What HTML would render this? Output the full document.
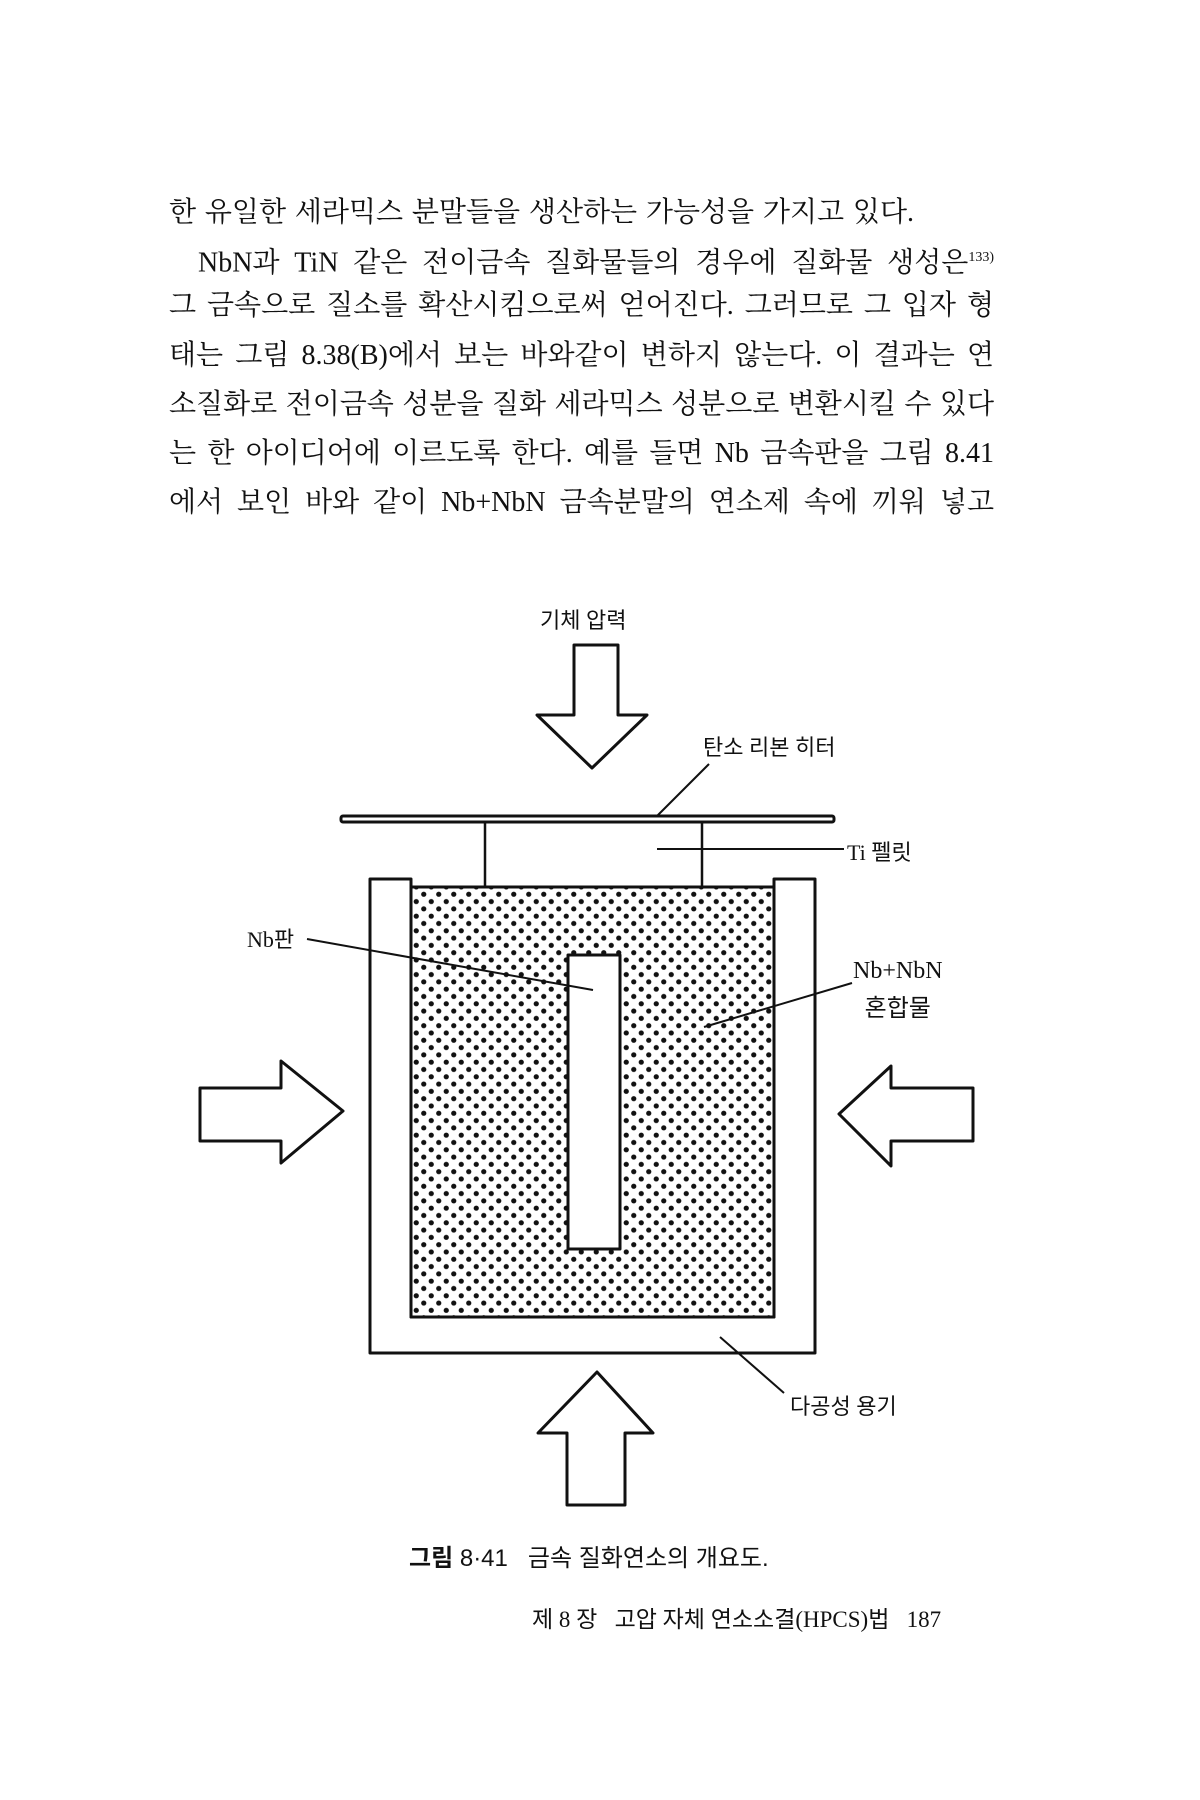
<!DOCTYPE html>
<html><head><meta charset="utf-8"><style>
html,body{margin:0;padding:0;background:#fff;}
body{width:1200px;height:1800px;position:relative;overflow:hidden;font-family:"Liberation Serif","Noto Serif CJK SC","Noto Sans CJK KR",serif;color:#111;}
.l{position:absolute;left:169px;width:825px;font-size:28px;line-height:32px;white-space:nowrap;text-align:justify;text-align-last:justify;}
.t{position:absolute;font-family:"Liberation Serif","Noto Sans CJK KR",serif;}
</style></head><body>
<div class="l" style="top:197px;width:745px;">한 유일한 세라믹스 분말들을 생산하는 가능성을 가지고 있다.</div>
<div class="l" style="top:242px;left:198px;width:796px;">NbN과 TiN 같은 전이금속 질화물들의 경우에 질화물 생성은<sup style="font-size:14px;">133)</sup></div>
<div class="l" style="top:290px;">그 금속으로 질소를 확산시킴으로써 얻어진다. 그러므로 그 입자 형</div>
<div class="l" style="top:340px;">태는 그림 8.38(B)에서 보는 바와같이 변하지 않는다. 이 결과는 연</div>
<div class="l" style="top:389px;">소질화로 전이금속 성분을 질화 세라믹스 성분으로 변환시킬 수 있다</div>
<div class="l" style="top:438px;">는 한 아이디어에 이르도록 한다. 예를 들면 Nb 금속판을 그림 8.41</div>
<div class="l" style="top:487px;">에서 보인 바와 같이 Nb+NbN 금속분말의 연소제 속에 끼워 넣고</div>

<svg width="1200" height="1800" style="position:absolute;left:0;top:0" xmlns="http://www.w3.org/2000/svg">
<defs><pattern id="d" width="15" height="14.6" patternUnits="userSpaceOnUse">
<circle cx="3.75" cy="3.65" r="2.6" fill="#111"/><circle cx="11.25" cy="10.95" r="2.6" fill="#111"/></pattern></defs>
<g fill="none" stroke="#111" stroke-width="3" stroke-linejoin="round">
<polygon points="574,645 618,645 618,715 647,715 592,768 537,715 574,715" fill="#fff"/>
<rect x="341" y="816" width="493" height="6" rx="2" fill="#fff"/>
<line x1="657" y1="816" x2="709" y2="764" stroke-width="2"/>
<line x1="485" y1="822" x2="485" y2="887" stroke-width="2.5"/>
<line x1="702" y1="822" x2="702" y2="887" stroke-width="2.5"/>
<line x1="657" y1="849" x2="844" y2="849" stroke-width="2"/>
<path d="M370,879 L411,879 L411,887 L411,1317 L774,1317 L774,879 L815,879 L815,1353 L370,1353 Z" fill="#fff"/>
<rect x="411" y="887" width="363" height="430" fill="url(#d)"/>
<rect x="568" y="955" width="52" height="294" fill="#fff"/>
<line x1="307" y1="939" x2="593" y2="990" stroke-width="2"/>
<line x1="852" y1="983" x2="704" y2="1027" stroke-width="2"/>
<line x1="720" y1="1337" x2="784" y2="1393" stroke-width="2"/>
<polygon points="200,1088 281,1088 281,1061 343,1111 281,1163 281,1141 200,1141" fill="#fff"/>
<polygon points="973,1088 891,1088 891,1066 839,1114 891,1166 891,1141 973,1141" fill="#fff"/>
<polygon points="597,1372 653,1433 625,1433 625,1505 567,1505 567,1433 538,1433" fill="#fff"/>
</g>
</svg>

<div class="t" style="left:540px;top:603px;font-size:22px;">기체 압력</div>
<div class="t" style="left:703px;top:730px;font-size:22px;">탄소 리본 히터</div>
<div class="t" style="left:847px;top:835px;font-size:22px;">Ti 펠릿</div>
<div class="t" style="left:247px;top:922px;font-size:22px;">Nb판</div>
<div class="t" style="left:853px;top:952px;font-size:24px;text-align:center;line-height:38px;">Nb+NbN<br>혼합물</div>
<div class="t" style="left:790px;top:1389px;font-size:22px;">다공성 용기</div>
<div class="t" style="left:409px;top:1538px;font-size:24px;font-family:'Liberation Sans','Noto Sans CJK KR',sans-serif;"><b>그림</b> 8·41 &nbsp; 금속 질화연소의 개요도.</div>
<div class="t" style="left:532px;top:1600px;font-size:23px;">제 8 장 &nbsp; 고압 자체 연소소결(HPCS)법 &nbsp; 187</div>
</body></html>
